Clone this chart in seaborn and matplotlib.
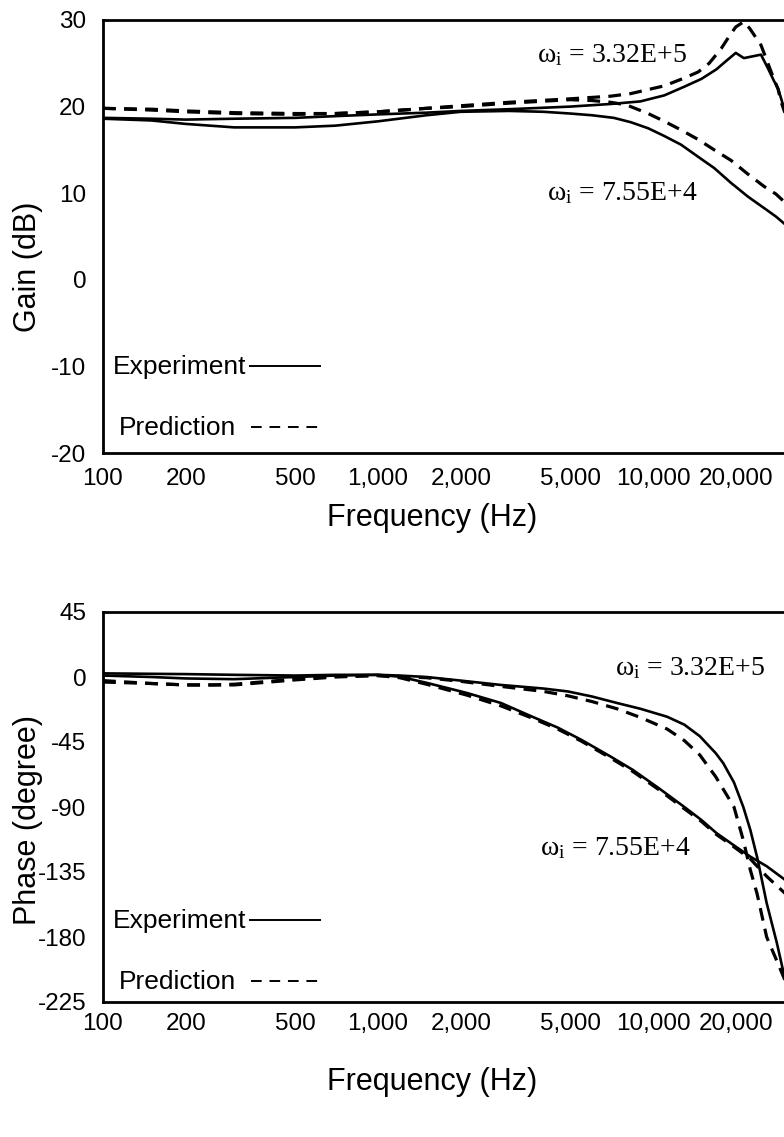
import matplotlib
matplotlib.use("Agg")
import matplotlib.pyplot as plt
from matplotlib.ticker import NullLocator
import numpy as np
import pandas as pd
import seaborn as sns

# ---------------- Gain (dB) ----------------
gain_exp_hi_f = [100, 150, 200, 300, 500, 700, 1000, 1500, 2000, 3000, 5000, 7000,
                 9000, 11000, 13000, 15000, 17000, 18500, 20000, 21400, 23000,
                 24700, 26200, 27500, 28500, 29700, 31000]
gain_exp_hi = [18.7, 18.6, 18.5, 18.6, 18.7, 18.9, 19.1, 19.3, 19.5, 19.7, 20.0, 20.3,
               20.6, 21.3, 22.3, 23.2, 24.3, 25.3, 26.2, 25.6, 25.8,
               26.0, 24.4, 23.0, 22.1, 20.2, 18.0]

gain_exp_lo_f = [100, 150, 200, 300, 500, 700, 1000, 1500, 2000, 3000, 4000, 5000,
                 6000, 7200, 8300, 9600, 11000, 12650, 14600, 16700, 19200, 22150,
                 25300, 28000, 30500]
gain_exp_lo = [18.6, 18.4, 18.0, 17.6, 17.6, 17.8, 18.3, 19.0, 19.4, 19.5, 19.4, 19.2,
               19.0, 18.7, 18.2, 17.5, 16.6, 15.6, 14.2, 12.9, 11.2, 9.6,
               8.3, 7.3, 6.3]

gain_pred_hi_f = [100, 150, 200, 300, 500, 700, 1000, 1500, 2000, 3000, 5000, 7000,
                  8300, 11000, 13000, 14600, 16000, 17700, 19000, 20000, 21400,
                  22500, 24700, 26900, 28500, 29200, 30000, 31000]
gain_pred_hi = [19.8, 19.7, 19.5, 19.3, 19.2, 19.2, 19.4, 19.8, 20.1, 20.5, 20.9, 21.2,
                21.5, 22.4, 23.3, 24.0, 25.0, 26.7, 28.2, 29.2, 29.8,
                29.0, 27.1, 24.0, 22.0, 20.6, 19.5, 18.5]

gain_pred_lo_f = [100, 150, 200, 300, 500, 700, 1000, 1500, 2000, 3000, 5000, 6000,
                  7000, 8000, 9600, 11000, 12650, 14600, 16700, 19200, 22150, 25300,
                  28000, 30500]
gain_pred_lo = [19.8, 19.6, 19.4, 19.2, 19.1, 19.2, 19.4, 19.8, 20.0, 20.4, 20.8, 20.7,
                20.5, 20.2, 19.2, 18.3, 17.3, 16.2, 15.0, 13.8, 12.2, 10.8,
                9.9, 8.8]

# ---------------- Phase (degree) ----------------
phase_exp_hi_f = [100, 200, 300, 500, 700, 1000, 1200, 1500, 2000, 2800, 4000, 4900,
                  6000, 7400, 9000, 11250, 13000, 14800, 16900, 18000, 19700, 21300,
                  22600, 24000, 25900, 28200, 29700, 31000]
phase_exp_hi = [2.5, 2.0, 1.5, 1.0, 1.5, 1.5, 1.0, 0.0, -2.5, -5.5, -8, -10,
                -13.5, -18, -22, -27.5, -33, -41, -52.7, -59.6, -73, -90,
                -106, -126, -156.5, -184, -203, -215]

phase_exp_lo_f = [100, 150, 200, 300, 500, 700, 1000, 1200, 1500, 2100, 2800, 3640,
                  4500, 5500, 7000, 8460, 10500, 12960, 15000, 17000, 19500, 22600,
                  25900, 30300]
phase_exp_lo = [1.0, 0.0, -1.0, -1.5, 0.0, 1.0, 1.5, 0.2, -4, -11, -18, -27.5,
                -35, -43.6, -55, -64.4, -77, -89.8, -99, -108, -116, -124.4,
                -131, -140.6]

phase_pred_hi_f = [100, 150, 200, 250, 300, 500, 700, 1000, 1500, 2000, 2800, 4000,
                   4900, 6000, 7400, 9000, 11250, 13000, 14800, 16900, 19700, 21300,
                   22600, 23900, 25900, 28800, 30500]
phase_pred_hi = [-3.5, -4.5, -5.5, -5.5, -5.0, -1.5, 0.5, 1.0, -0.5, -3, -6.5, -10,
                 -13, -17, -22, -28, -36, -44, -54, -69, -90, -113,
                 -133.7, -150, -180, -200.6, -212]

phase_pred_lo_f = [100, 150, 200, 300, 500, 700, 1000, 1200, 1500, 2100, 2800, 3640,
                   4500, 5500, 7000, 8460, 10500, 12960, 15000, 17000, 19500, 22600,
                   25900, 30300]
phase_pred_lo = [-2.5, -4.5, -5.5, -5.5, -2.0, 0.0, 1.0, -0.5, -5, -12.5, -20, -28.5,
                 -36, -44.5, -56, -65.5, -78, -91, -100, -109, -117, -126,
                 -138, -150]

freq_ticks = [100, 200, 500, 1000, 2000, 5000, 10000, 20000]
freq_tick_labels = ["100", "200", "500", "1,000", "2,000", "5,000", "10,000", "20,000"]
gain_ticks = [-20, -10, 0, 10, 20, 30]
phase_ticks = [-225, -180, -135, -90, -45, 0, 45]


def long_frame(series):
    rows = []
    for name, kind, f, v in series:
        for fi, vi in zip(f, v):
            rows.append({"freq": fi, "value": vi, "curve": name, "kind": kind})
    return pd.DataFrame(rows)


gain_df = long_frame([
    ("hi_exp", "Experiment", gain_exp_hi_f, gain_exp_hi),
    ("lo_exp", "Experiment", gain_exp_lo_f, gain_exp_lo),
    ("hi_pred", "Prediction", gain_pred_hi_f, gain_pred_hi),
    ("lo_pred", "Prediction", gain_pred_lo_f, gain_pred_lo),
])
phase_df = long_frame([
    ("hi_exp", "Experiment", phase_exp_hi_f, phase_exp_hi),
    ("lo_exp", "Experiment", phase_exp_lo_f, phase_exp_lo),
    ("hi_pred", "Prediction", phase_pred_hi_f, phase_pred_hi),
    ("lo_pred", "Prediction", phase_pred_lo_f, phase_pred_lo),
])

sns.set_theme(style="white")
plt.rcParams["font.family"] = ["Liberation Sans", "DejaVu Sans"]
plt.rcParams["mathtext.fontset"] = "custom"
plt.rcParams["mathtext.rm"] = "Liberation Serif"
plt.rcParams["mathtext.it"] = "Liberation Serif:italic"

W, H = 784, 1137
fig = plt.figure(figsize=(W / 100, H / 100), dpi=100)
fig.patch.set_facecolor("white")

# axes in pixel units: left, top, right, bottom (right edge runs past the page)
def px_axes(left, top, right, bottom):
    return fig.add_axes([left / W, 1 - bottom / H, (right - left) / W, (bottom - top) / H])

ax1 = px_axes(103, 20, 928, 453)
ax2 = px_axes(103, 612, 928, 1002)

TICK_FS = 17.5
LABEL_FS = 22
LEG_FS = 19
ANN_FS = 20


def draw_panel(ax, df, ylim, yticks, ylabel, xpad, ylab_y, xlab_y):
    exp = df[df["kind"] == "Experiment"]
    pred = df[df["kind"] == "Prediction"]
    sns.lineplot(data=exp, x="freq", y="value", units="curve", estimator=None,
                 sort=False, color="black", linewidth=1.9, legend=False, ax=ax)
    sns.lineplot(data=pred, x="freq", y="value", units="curve", estimator=None,
                 sort=False, style="kind", dashes={"Prediction": (4, 2.6)},
                 color="black", linewidth=2.3, legend=False, ax=ax)
    ax.set_xscale("log")
    ax.set_xlim(100, 1e5)
    ax.set_ylim(*ylim)
    ax.set_xticks(freq_ticks)
    ax.set_xticklabels(freq_tick_labels)
    ax.xaxis.set_minor_locator(NullLocator())
    ax.set_yticks(yticks)
    ax.set_yticklabels([str(t) for t in yticks])
    ax.tick_params(axis="both", length=0, labelsize=TICK_FS, colors="black")
    ax.tick_params(axis="x", pad=xpad)
    ax.tick_params(axis="y", pad=12)
    for s in ax.spines.values():
        s.set_visible(True)
        s.set_color("black")
        s.set_linewidth(2.0)
    ax.set_facecolor("white")
    ax.set_xlabel("Frequency (Hz)", fontsize=LABEL_FS, color="black")
    ax.set_ylabel(ylabel, fontsize=LABEL_FS, color="black", va="center")
    ax.xaxis.set_label_coords((432 - 103) / 825, xlab_y)
    ax.yaxis.set_label_coords((28 - 103) / 825, ylab_y)


draw_panel(ax1, gain_df, (-20, 30), gain_ticks, "Gain (dB)", 11,
           (453 - 267) / 433, (453 - 503) / 433)
draw_panel(ax2, phase_df, (-225, 45), phase_ticks, "Phase (degree)", 8,
           (1002 - 820) / 390, (1002 - 1067) / 390)


def legend_box(ax, ax_top, ax_h, y_exp, y_pred):
    def fy(y):
        return (ax_top + ax_h - y) / ax_h
    def fx(x):
        return (x - 103) / 825
    ax.text(fx(113), fy(y_exp), "Experiment", transform=ax.transAxes,
            fontsize=LEG_FS, va="center", ha="left", color="black")
    ax.text(fx(119), fy(y_pred), "Prediction", transform=ax.transAxes,
            fontsize=LEG_FS, va="center", ha="left", color="black")
    ax.plot([fx(249), fx(321)], [fy(y_exp - 1), fy(y_exp - 1)], transform=ax.transAxes,
            color="black", linewidth=1.4, solid_capstyle="butt", clip_on=False)
    ax.plot([fx(251), fx(321)], [fy(y_pred - 1), fy(y_pred - 1)], transform=ax.transAxes,
            color="black", linewidth=1.4, dashes=(5.5, 4.0), clip_on=False)


legend_box(ax1, 20, 433, 367, 428)
legend_box(ax2, 612, 390, 921, 982)


def omega_label(ax, ax_top, ax_h, x, y_base, value):
    ax.text((x - 103) / 825, (ax_top + ax_h - y_base) / ax_h,
            r"$\mathrm{\omega}_{\mathrm{i}}$ = " + value, transform=ax.transAxes,
            fontsize=ANN_FS, family="Liberation Serif", va="baseline", ha="left",
            color="black")


omega_label(ax1, 20, 433, 537, 62, "3.32E+5")
omega_label(ax1, 20, 433, 547, 200, "7.55E+4")
omega_label(ax2, 612, 390, 615, 675, "3.32E+5")
omega_label(ax2, 612, 390, 540, 855, "7.55E+4")

fig.savefig("out.png", dpi=100, facecolor="white")
